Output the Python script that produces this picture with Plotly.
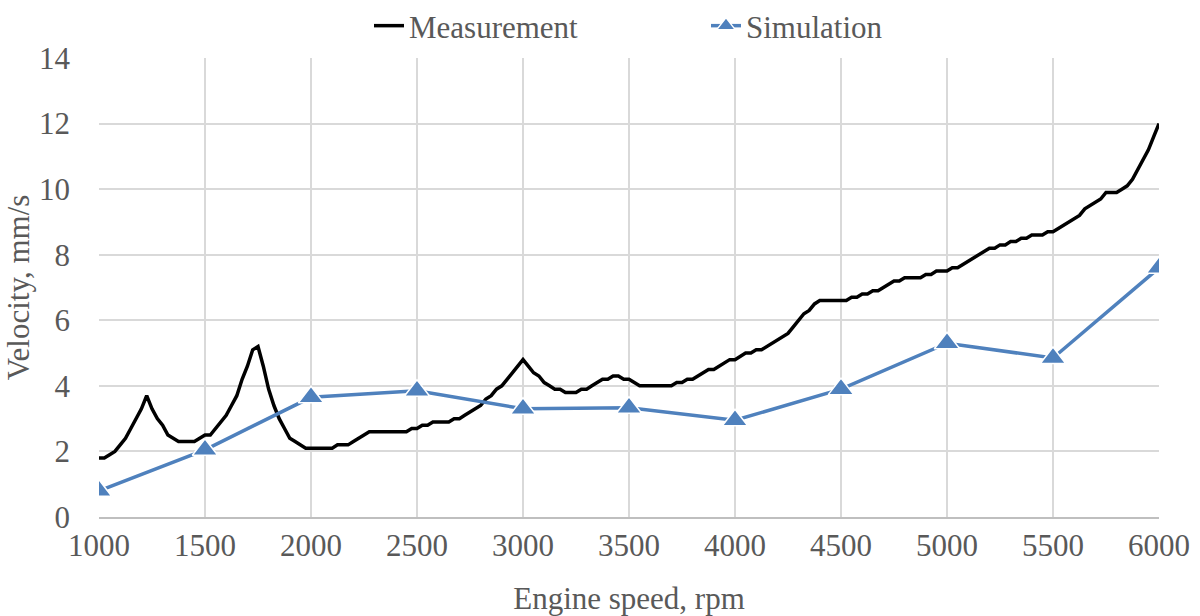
import plotly.graph_objects as go

meas_rpm = [1000 + 25 * i for i in range(201)]
meas_vel = [
    1.8, 1.8, 1.9, 2.0, 2.2, 2.4, 2.7, 3.0, 3.3, 3.7,   # 1000-1225
    3.3, 3.0, 2.8, 2.5, 2.4, 2.3, 2.3, 2.3, 2.3, 2.4,   # 1250-1475
    2.5, 2.5, 2.7, 2.9, 3.1, 3.4, 3.7, 4.2, 4.6, 5.1,   # 1500-1725
    5.2, 4.6, 3.9, 3.4, 3.0, 2.7, 2.4, 2.3, 2.2, 2.1,   # 1750-1975
    2.1, 2.1, 2.1, 2.1, 2.1, 2.2, 2.2, 2.2, 2.3, 2.4,   # 2000-2225
    2.5, 2.6, 2.6, 2.6, 2.6, 2.6, 2.6, 2.6, 2.6, 2.7,   # 2250-2475
    2.7, 2.8, 2.8, 2.9, 2.9, 2.9, 2.9, 3.0, 3.0, 3.1,   # 2500-2725
    3.2, 3.3, 3.4, 3.6, 3.7, 3.9, 4.0, 4.2, 4.4, 4.6,   # 2750-2975
    4.8, 4.6, 4.4, 4.3, 4.1, 4.0, 3.9, 3.9, 3.8, 3.8,   # 3000-3225
    3.8, 3.9, 3.9, 4.0, 4.1, 4.2, 4.2, 4.3, 4.3, 4.2,   # 3250-3475
    4.2, 4.1, 4.0, 4.0, 4.0, 4.0, 4.0, 4.0, 4.0, 4.1,   # 3500-3725
    4.1, 4.2, 4.2, 4.3, 4.4, 4.5, 4.5, 4.6, 4.7, 4.8,   # 3750-3975
    4.8, 4.9, 5.0, 5.0, 5.1, 5.1, 5.2, 5.3, 5.4, 5.5,   # 4000-4225
    5.6, 5.8, 6.0, 6.2, 6.3, 6.5, 6.6, 6.6, 6.6, 6.6,   # 4250-4475
    6.6, 6.6, 6.7, 6.7, 6.8, 6.8, 6.9, 6.9, 7.0, 7.1,   # 4500-4725
    7.2, 7.2, 7.3, 7.3, 7.3, 7.3, 7.4, 7.4, 7.5, 7.5,   # 4750-4975
    7.5, 7.6, 7.6, 7.7, 7.8, 7.9, 8.0, 8.1, 8.2, 8.2,   # 5000-5225
    8.3, 8.3, 8.4, 8.4, 8.5, 8.5, 8.6, 8.6, 8.6, 8.7,   # 5250-5475
    8.7, 8.8, 8.9, 9.0, 9.1, 9.2, 9.4, 9.5, 9.6, 9.7,   # 5500-5725
    9.9, 9.9, 9.9, 10.0, 10.1, 10.3, 10.6, 10.9, 11.2, 11.6,  # 5750-5975
    12.0,                                                # 6000
]

sim_rpm = [1000, 1500, 2000, 2500, 3000, 3500, 4000, 4500, 5000, 5500, 6000]
sim_vel = [0.8, 2.05, 3.65, 3.85, 3.3, 3.33, 2.95, 3.9, 5.3, 4.85, 7.6]

x_ticks = [1000, 1500, 2000, 2500, 3000, 3500, 4000, 4500, 5000, 5500, 6000]
y_ticks = [0, 2, 4, 6, 8, 10, 12, 14]

FONT = "Liberation Serif, Times New Roman, serif"
GRAY = "#595959"
FS = 31

fig = go.Figure()
fig.add_trace(go.Scatter(
    x=meas_rpm, y=meas_vel, mode="lines", name="Measurement",
    line=dict(color="#000000", width=3.5), legend="legend",
))
fig.add_trace(go.Scatter(
    x=sim_rpm, y=sim_vel, mode="lines+markers", name="Simulation",
    line=dict(color="#4F81BD", width=3.5), legend="legend2",
    marker=dict(symbol="triangle-up", size=22, color="#4F81BD",
                line=dict(color="#FFFFFF", width=1.5)),
))

leg_common = dict(font=dict(family=FONT, size=FS, color=GRAY), bgcolor="rgba(0,0,0,0)",
                  orientation="h", xref="container", yref="container",
                  yanchor="middle", y=1 - 26 / 616, xanchor="left")

fig.update_layout(
    width=1200, height=616,
    margin=dict(l=99, r=41, t=58, b=99),
    plot_bgcolor="#FFFFFF", paper_bgcolor="#FFFFFF",
    font=dict(family=FONT, size=FS, color=GRAY),
    showlegend=True,
    legend=dict(x=369 / 1200, **leg_common),
    legend2=dict(x=706 / 1200, **leg_common),
    xaxis=dict(
        range=[1000, 6000], tickvals=x_ticks, ticktext=[str(v) for v in x_ticks],
        showgrid=True, gridcolor="#D9D9D9", gridwidth=2,
        zeroline=False, showline=True, linecolor="#BFBFBF", linewidth=2,
        ticks="", automargin=False, tickfont=dict(family=FONT, size=FS, color=GRAY),
        title=dict(text="Engine speed, rpm", font=dict(family=FONT, size=FS, color=GRAY), standoff=26),
    ),
    yaxis=dict(
        range=[0, 14], tickvals=y_ticks,
        showgrid=True, gridcolor="#D9D9D9", gridwidth=2,
        zeroline=False, showline=False,
        ticks="", automargin=False, ticklabelstandoff=28,
        tickfont=dict(family=FONT, size=FS, color=GRAY),
        title=dict(text="Velocity, mm/s", font=dict(family=FONT, size=FS, color=GRAY), standoff=0),
    ),
)

fig.write_html("out.html", config={"displayModeBar": False},
               post_script="document.body.style.margin='0px';")
